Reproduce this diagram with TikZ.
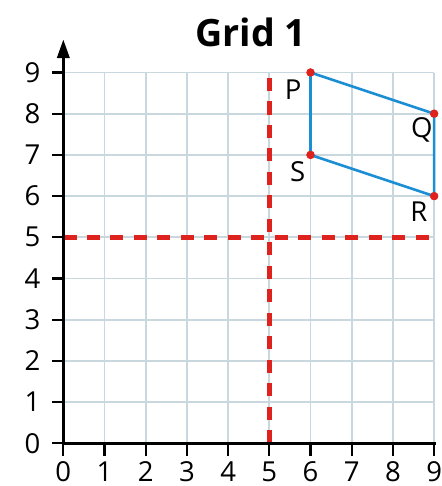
\documentclass[tikz,border=0pt]{standalone}
\usepackage{fontspec}
\setmainfont{Open Sans}
\usetikzlibrary{arrows.meta}
\definecolor{gridc}{RGB}{200,216,222}
\definecolor{redc}{RGB}{222,34,30}
\definecolor{bluec}{RGB}{28,142,212}
\tikzset{
  gridline/.style={gridc,line width=1.2pt},
  axisline/.style={black,line width=1.8pt},
  ticklab/.style={font=\fontsize{19}{19}\selectfont,inner sep=0pt},
  ptlab/.style={font=\fontsize{19}{19}\selectfont,inner sep=0pt},
  reddash/.style={redc,line width=3.4pt,dash pattern=on 0.32cm off 0.25cm},
  quadline/.style={bluec,line width=1.8pt},
  ptdot/.style={circle,fill=redc,inner sep=0pt,minimum size=0.2cm},
}
\begin{document}
\begin{tikzpicture}
\useasboundingbox (-1.537,-1.036) rectangle (9.19,10.76);
\fill[white] (-1.537,-1.036) rectangle (9.19,10.76);
% grid
\foreach \i in {1,...,9} {
  \draw[gridline] (\i,0) -- (\i,9);
  \draw[gridline] (0,\i) -- (9,\i);
}
% red dashed lines
\coordinate (v0) at (5,0);
\coordinate (v1) at (5,9.12);
\coordinate (h0) at (0,5);
\coordinate (h1) at (9.1,5);
\draw[reddash] (v0) -- (v1);
\draw[reddash] (h0) -- (h1);
% axes
\coordinate (O) at (0,0);
\coordinate (xe) at (9.05,0);
\coordinate (ye) at (0,9.8);
\draw[axisline] (O) -- (xe);
\draw[axisline,-{Triangle[length=0.45cm,width=0.3cm]}] (O) -- (ye);
\foreach \i in {0,...,9} {
  \draw[axisline,line width=1.5pt] (\i,0) -- (\i,-0.3);
  \node[ticklab] (xl\i) at (\i,-0.68) {\i};
  \draw[axisline,line width=1.5pt] (0,\i) -- (-0.27,\i);
  \node[ticklab] (yl\i) at (-0.75,\i) {\i};
}
% title
\node[font=\bfseries\fontsize{26}{26}\selectfont,inner sep=0pt] (title) at (4.55,9.98) {Grid 1};
% quadrilateral
\node[ptdot] (P) at (6,9) {};
\node[ptdot] (Q) at (9,8) {};
\node[ptdot] (R) at (9,6) {};
\node[ptdot] (S) at (6,7) {};
\draw[quadline] (P.center) -- (Q.center) -- (R.center) -- (S.center) -- cycle;
\foreach \n in {P,Q,R,S} \node[ptdot] at (\n) {};
\node[ptlab] (Pl) at (5.58,8.58) {P};
\node[ptlab] (Ql) at (8.7,7.6) {Q};
\node[ptlab] (Sl) at (5.69,6.59) {S};
\node[ptlab] (Rl) at (8.63,5.61) {R};
\end{tikzpicture}
\end{document}
